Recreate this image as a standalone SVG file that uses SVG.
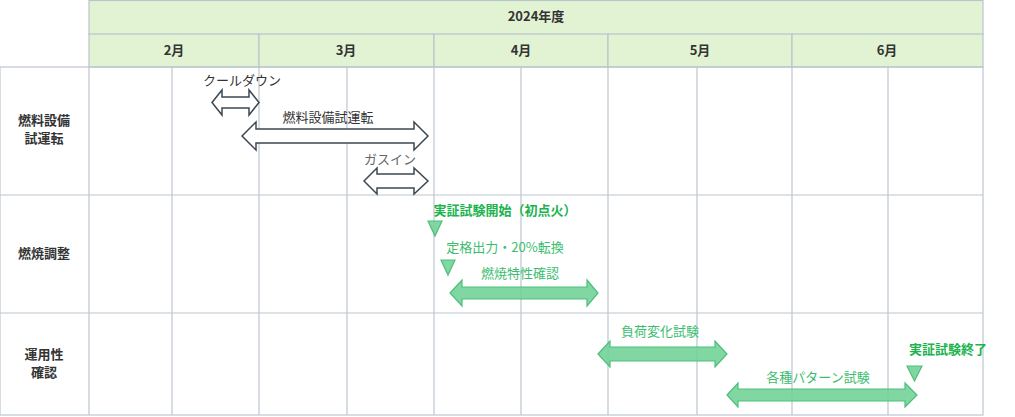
<svg xmlns="http://www.w3.org/2000/svg" width="1015" height="417" viewBox="0 0 1015 417">
<style>
text{font-family:"Noto Sans CJK JP","Noto Sans",sans-serif;font-size:13px}
.hd{fill:#e2f3d4;stroke:#b8c6cc;stroke-width:1.2}
.b{font-weight:bold;fill:#333}
.g{stroke:#bcc6d0;stroke-width:1.2;fill:none}
.wa{fill:#fff;stroke:#3c4852;stroke-width:1.5}
.ga{fill:#6fd195;fill-opacity:.88;stroke:#4cbf7a;stroke-width:1.2}
.gt{fill:#3cbd6e}
.gb{fill:#1cb34e;font-weight:bold}
</style>
<rect width="1015" height="417" fill="#fff"/>
<g id="header">
<rect class="hd" x="89" y="0.5" width="894" height="34"/>
<rect class="hd" x="89" y="34" width="170" height="33"/>
<rect class="hd" x="259" y="34" width="175" height="33"/>
<rect class="hd" x="434" y="34" width="174" height="33"/>
<rect class="hd" x="608" y="34" width="184" height="33"/>
<rect class="hd" x="792" y="34" width="191" height="33"/>
<text class="b" x="536" y="21" text-anchor="middle">2024年度</text>
<text class="b" x="174" y="55" text-anchor="middle">2月</text>
<text class="b" x="346" y="55" text-anchor="middle">3月</text>
<text class="b" x="521" y="55" text-anchor="middle">4月</text>
<text class="b" x="700" y="55" text-anchor="middle">5月</text>
<text class="b" x="887" y="55" text-anchor="middle">6月</text>
</g>
<g id="grid" class="g">
<rect x="0" y="67" width="983" height="348"/>
<path d="M89 67V415M259 67V415M434 67V415M608 67V415M792 67V415M172 67V415M347 67V415M521 67V415M697 67V415M888 67V415M0 195H983M0 313H983"/>
</g>
<g id="rows">
<text class="b" x="44" y="125" text-anchor="middle">燃料設備</text>
<text class="b" x="44" y="143" text-anchor="middle">試運転</text>
<text class="b" x="44" y="258" text-anchor="middle">燃焼調整</text>
<text class="b" x="44" y="359" text-anchor="middle">運用性</text>
<text class="b" x="44" y="377" text-anchor="middle">確認</text>
</g>
<g id="connectors">
<g id="cooldown"><path class="wa" d="M212 102.5L222 90V97H249V90L259 102.5L249 115V108H222V115Z"/>
<text x="242" y="85" text-anchor="middle" fill="#333">クールダウン</text></g>
<g id="fuel"><path class="wa" d="M242 136L256 122V129H414V122L428 136L414 150V143H256V150Z"/>
<text x="328" y="122" text-anchor="middle" fill="#333">燃料設備試運転</text></g>
<g id="gasin"><path class="wa" d="M364 181L377 168V174H414V168L428 181L414 194V188H377V194Z"/>
<text x="390" y="164" text-anchor="middle" fill="#666">ガスイン</text></g>
<g id="start"><path class="ga" d="M428 221H442L435 236Z"/>
<text class="gb" x="505" y="215" text-anchor="middle">実証試験開始（初点火）</text></g>
<g id="rated"><path class="ga" d="M441 260H455L448 275Z"/>
<text class="gt" x="505" y="252" text-anchor="middle">定格出力・20%転換</text></g>
<g id="combust"><path class="ga" d="M450 293L462 280V287H587V280L598 293L587 306V299H462V306Z"/>
<text class="gt" x="520" y="278" text-anchor="middle">燃焼特性確認</text></g>
<g id="load"><path class="ga" d="M598 354L610 341V347H715V341L727 354L715 367V361H610V367Z"/>
<text class="gt" x="660" y="336" text-anchor="middle">負荷変化試験</text></g>
<g id="pattern"><path class="ga" d="M727 395L738 383V389H905V383L917 395L905 407V401H738V407Z"/>
<text class="gt" x="818" y="382" text-anchor="middle">各種パターン試験</text></g>
<g id="end"><path class="ga" d="M907 366H922L914.5 381Z"/>
<text class="gb" x="948" y="354" text-anchor="middle">実証試験終了</text></g>
</g>
</svg>
